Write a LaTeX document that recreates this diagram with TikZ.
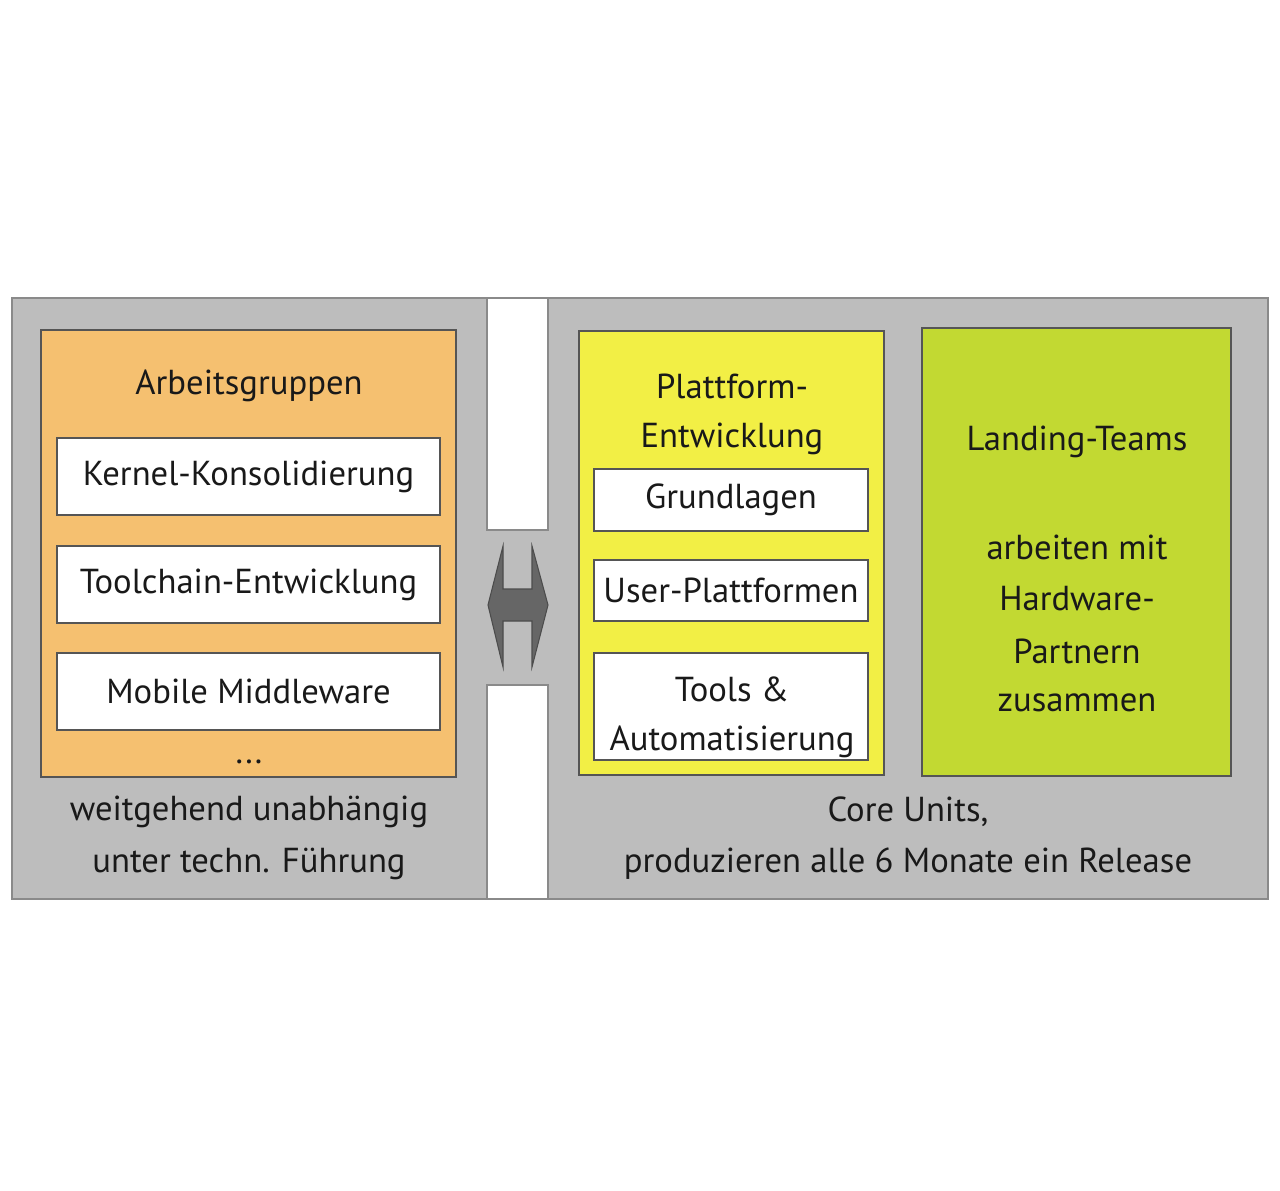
\documentclass[tikz,border=0pt]{standalone}
\usepackage{fontspec}
\setmainfont{PT Sans}
\usetikzlibrary{fit}
\definecolor{bggray}{HTML}{BDBDBD}
\definecolor{edgegray}{HTML}{8A8A8A}
\definecolor{darkedge}{HTML}{555555}
\definecolor{orangefill}{HTML}{F5C070}
\definecolor{yellowfill}{HTML}{F2EF45}
\definecolor{greenfill}{HTML}{C2D932}
\definecolor{arrowfill}{HTML}{666666}
\tikzset{
  panel/.style={inner sep=0pt, draw=edgegray, line width=1.5pt, fill=bggray},
  gapbox/.style={inner sep=0pt, draw=edgegray, line width=1.5pt, fill=white},
  colbox/.style={inner sep=0pt, draw=darkedge, line width=1.5pt},
  wbox/.style={inner sep=0pt, draw=darkedge, line width=1.5pt, fill=white},
  txt/.style={font=\fontsize{26}{31}\selectfont, inner sep=0pt, anchor=center, text=black!90},
}
\begin{document}
\begin{tikzpicture}[x=0.75pt,y=-0.75pt]
\useasboundingbox[fill=white] (0,0) rectangle (1280,1190);
% background panels
\node[panel, fit={(12,298) (1268,899)}] (bg) {};
\node[gapbox, fit={(487,298) (548,530)}] (gaptop) {};
\node[gapbox, fit={(487,685) (548,899)}] (gapbot) {};
% double arrow
\filldraw[fill=arrowfill, draw=black!70, line width=0.8pt, line join=miter]
  (488,605) -- (503,546) -- (503,589) -- (532,589) -- (532,546) -- (548,605)
  -- (532,667) -- (532,621) -- (503,621) -- (503,667) -- cycle;
% left orange group
\node[colbox, fill=orangefill, fit={(41,330) (456,777)}] (arb) {};
\node[txt] (arbt) at (249,386) {Arbeitsgruppen};
\node[wbox, fit={(57,438) (440,515)}] (kern) {};
\node[txt] at (kern) {Kernel-Konsolidierung};
\node[wbox, fit={(57,546) (440,623)}] (tool) {};
\node[txt] at (tool) {Toolchain-Entwicklung};
\node[wbox, fit={(57,653) (440,730)}] (mob) {};
\node[txt] at (mob) {Mobile Middleware};
\node[txt] (dots) at (249,762) {...};
\node[txt] (lcap1) at (249,812) {weitgehend unabhängig};
\node[txt] (lcap2) at (249,864) {unter techn. Führung};
% yellow group
\node[colbox, fill=yellowfill, fit={(579,331) (884,775)}] (plat) {};
\node[txt] (platt1) at (732,386) {Plattform-};
\node[txt] (platt2) at (732,439) {Entwicklung};
\node[wbox, fit={(594,469) (868,531)}] (grund) {};
\node[txt] at (grund) {Grundlagen};
\node[wbox, fit={(594,560) (868,621)}] (user) {};
\node[txt] at (user) {User-Plattformen};
\node[wbox, fit={(594,653) (868,760)}] (tools) {};
\node[txt] (toolsa) at (732,689) {Tools \&};
\node[txt] (toolsb) at (732,742) {Automatisierung};
% green group
\node[colbox, fill=greenfill, fit={(922,328) (1231,776)}] (land) {};
\node[txt] (land1) at (1077,442) {Landing-Teams};
\node[txt] (land2) at (1077,547) {arbeiten mit};
\node[txt] (land3) at (1077,599) {Hardware-};
\node[txt] (land4) at (1077,651) {Partnern};
\node[txt] (land5) at (1077,703) {zusammen};
% bottom right caption
\node[txt] (rcap1) at (908,812) {Core Units,};
\node[txt] (rcap2) at (908,864) {produzieren alle 6 Monate ein Release};
\end{tikzpicture}
\end{document}
